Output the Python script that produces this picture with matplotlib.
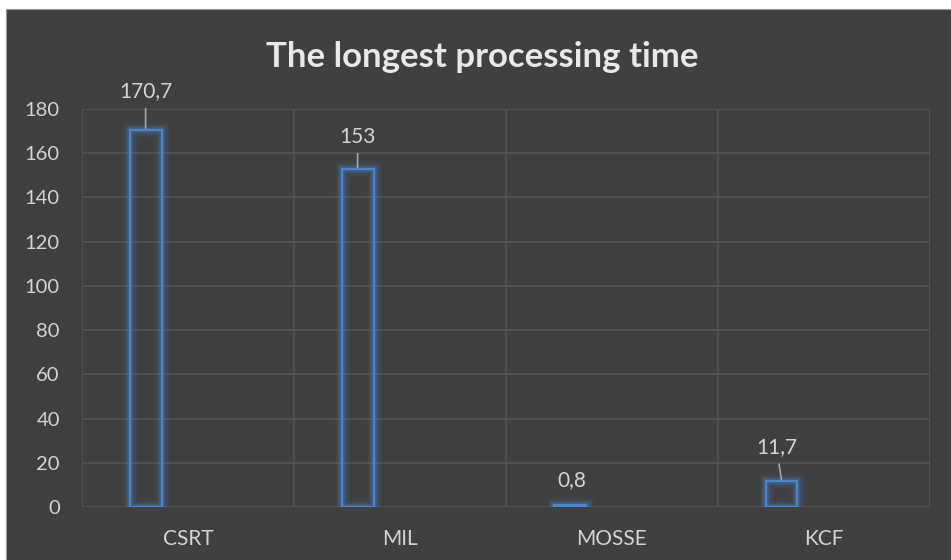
import matplotlib
matplotlib.use('Agg')
import matplotlib.pyplot as plt
from matplotlib.patches import Rectangle
import numpy as np

plt.rcParams['font.family'] = ['Lato', 'DejaVu Sans']

# processing time per tracker
trackers = ['CSRT', 'MIL', 'MOSSE', 'KCF']
times = [170.7, 153, 0.8, 11.7]
y_ticks = [0, 20, 40, 60, 80, 100, 120, 140, 160, 180]

# label offsets (pixels) and whether a leader line is drawn
label_offsets = [(0, 38), (0, 32), (2, 25), (-5, 34)]
leader = [True, True, False, True]

bg = '#404040'
grid_c = '#575757'
text_c = '#d4d4d4'
bar_c = '#4a86d0'

fig = plt.figure(figsize=(9.51, 5.60), dpi=100)
fig.patch.set_facecolor('white')
fig.patches.append(Rectangle((6 / 951, 0), 1, 1 - 9 / 560, transform=fig.transFigure,
                             facecolor=bg, edgecolor='#9a9a9a', linewidth=0.8, zorder=-10))

ax = fig.add_axes([82 / 951, 53 / 560, 848 / 951, 398 / 560])
ax.set_facecolor(bg)
ax.patch.set_alpha(0)

x = np.arange(len(trackers))
xb = x - 0.2
w = 0.15

# soft glow around the hollow bars
for lw, a in [(11, 0.06), (8, 0.09), (6, 0.12), (4, 0.18)]:
    ax.bar(xb, times, width=w, facecolor='none', edgecolor=bar_c, linewidth=lw, alpha=a, zorder=3)
ax.bar(xb, times, width=w, facecolor='none', edgecolor=bar_c, linewidth=1.7, zorder=4)

ax.set_xlim(-0.5, len(trackers) - 0.5)
ax.set_ylim(0, 180)
ax.set_yticks(y_ticks)
ax.set_xticks(x)
ax.set_xticklabels(trackers)

for yv in y_ticks:
    ax.axhline(yv, color=grid_c, linewidth=1.1, zorder=1)
for xv in np.arange(-0.5, len(trackers), 1.0):
    ax.axvline(xv, color=grid_c, linewidth=1.1, zorder=1)

for s in ax.spines.values():
    s.set_visible(False)
ax.tick_params(axis='both', length=0, colors=text_c)
ax.tick_params(axis='y', labelsize=14.5, pad=16)
ax.tick_params(axis='x', labelsize=15, pad=16)

for xi, v, off, ld in zip(xb, times, label_offsets, leader):
    txt = f"{v:g}".replace('.', ',')
    props = dict(arrowstyle='-', color='#a6a6a6', linewidth=1.2, shrinkA=3, shrinkB=1) if ld else None
    ax.annotate(txt, xy=(xi, v), xytext=off, textcoords='offset pixels',
                ha='center', va='center', fontsize=15, color=text_c,
                arrowprops=props, annotation_clip=False, zorder=5)

fig.text(482 / 951, 1 - 57 / 560, 'The longest processing time', ha='center', va='center',
         fontsize=25, fontweight='bold', color='#e8e8e8')

fig.savefig('out.png', dpi=100, facecolor=fig.get_facecolor())
